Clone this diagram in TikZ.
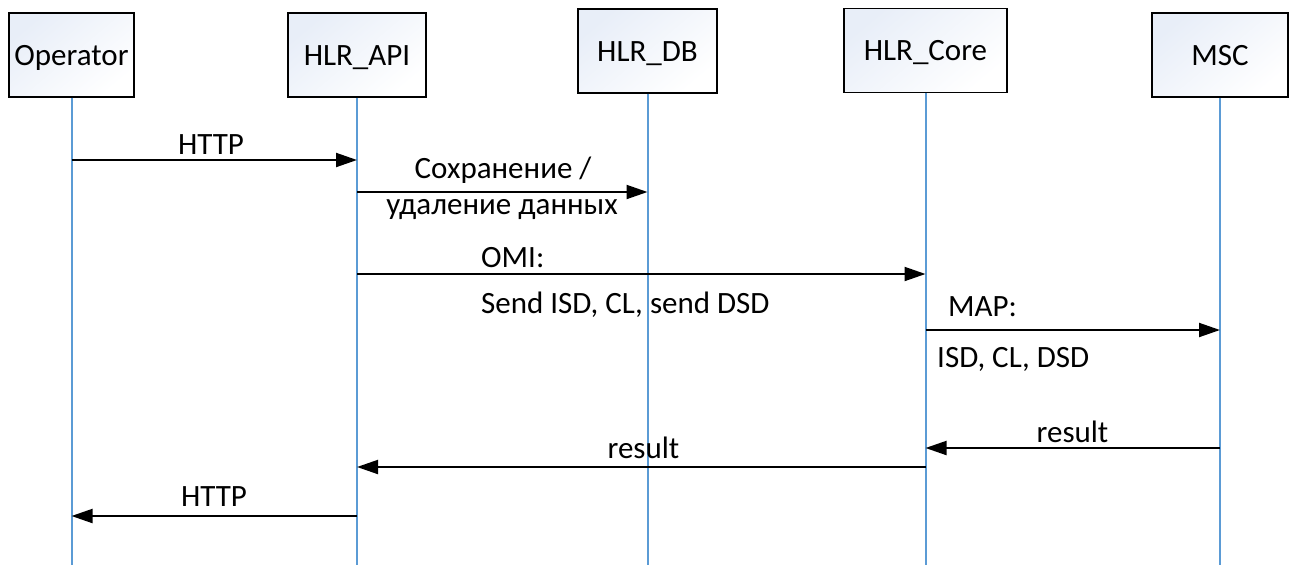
\documentclass[tikz,border=0pt]{standalone}
\usepackage{fontspec}
\setmainfont{Carlito}
\usetikzlibrary{arrows.meta}
\definecolor{lifeblue}{HTML}{5B9BD5}
\definecolor{boxtint}{HTML}{E8EEF8}
\tikzset{
  actor/.style={draw=black, line width=1.3pt, top color=boxtint, bottom color=white, shading angle=40,
    minimum height=84pt, inner sep=0pt, font=\fontsize{31}{37}\selectfont, text height=20pt, text depth=0pt},
  lifeline/.style={draw=lifeblue, line width=2pt},
  msg/.style={draw=black, line width=2pt, -{Triangle[length=21pt,width=14pt]}},
  lbl/.style={inner sep=0pt, font=\fontsize{31}{37}\selectfont}
}
\begin{document}
\begin{tikzpicture}[x=1pt,y=-1pt]
\useasboundingbox (0,0) rectangle (1289,565);
% actors
\node[actor, minimum width=125pt] (op)   at (71.5,55)   {Operator};
\node[actor, minimum width=138pt] (api)  at (357,55)    {HLR\_API};
\node[actor, minimum width=139pt] (db)   at (647.5,51)  {HLR\_DB};
\node[actor, minimum width=163pt] (core) at (925.5,50.5){HLR\_Core};
\node[actor, minimum width=136pt] (msc)  at (1220,55)   {MSC};
% lifeline ends
\coordinate (bot) at (0,565);
\draw[lifeline] (op.south)   -- (op.south |- bot);
\draw[lifeline] (api.south)  -- (api.south |- bot);
\draw[lifeline] (db.south)   -- (db.south |- bot);
\draw[lifeline] (core.south) -- (core.south |- bot);
\draw[lifeline] (msc.south)  -- (msc.south |- bot);
% message rows
\coordinate (m1) at (0,160);
\coordinate (m2) at (0,192);
\coordinate (m3) at (0,274);
\coordinate (m4) at (0,330);
\coordinate (m5) at (0,448);
\coordinate (m6) at (0,467);
\coordinate (m7) at (0,516);
\draw[msg] (op.south |- m1) -- (api.south |- m1);
\draw[msg] (api.south |- m2) -- (db.south |- m2);
\draw[msg] (api.south |- m3) -- (core.south |- m3);
\draw[msg] (core.south |- m4) -- (msc.south |- m4);
\draw[msg] (msc.south |- m5) -- (core.south |- m5);
\draw[msg] (core.south |- m6) -- (api.south |- m6);
\draw[msg] (api.south |- m7) -- (op.south |- m7);
% labels
\node[lbl, anchor=base] (l1)  at (211,154) {HTTP};
\node[lbl, anchor=base] (l2a) at (503,178) {Сохранение /};
\node[lbl, anchor=base] (l2b) at (502,214) {удаление данных};
\node[lbl, anchor=base west] (l3a) at (481,267) {OMI:};
\node[lbl, anchor=base west] (l3b) at (481,313) {Send ISD, CL, send DSD};
\node[lbl, anchor=base west] (l4a) at (948,316) {MAP:};
\node[lbl, anchor=base west] (l4b) at (937,367) {ISD, CL, DSD};
\node[lbl, anchor=base] (l5) at (1072.5,442) {result};
\node[lbl, anchor=base] (l6) at (643.5,458) {result};
\node[lbl, anchor=base] (l7) at (214,506) {HTTP};
\end{tikzpicture}
\end{document}
